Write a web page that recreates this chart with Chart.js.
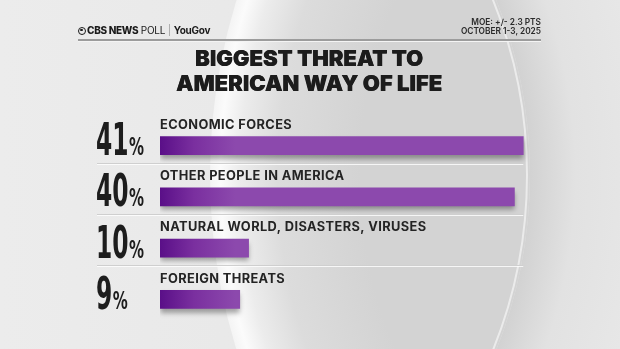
<!DOCTYPE html>
<html><head><meta charset="utf-8">
<script src="https://cdn.jsdelivr.net/npm/chart.js@4.4.1/dist/chart.umd.min.js"></script>
<style>
html,body{margin:0;padding:0;width:620px;height:349px;overflow:hidden;background:#e8e8e8;}
#wrap{position:relative;width:620px;height:349px;}
#c{position:absolute;left:0;top:0;}
.hdr{position:absolute;left:78px;top:23px;font-family:Inter,"Open Sans",sans-serif;font-size:10px;color:#1a1a1a;white-space:nowrap;line-height:14px;letter-spacing:-0.3px;}
.hdr .eye{display:inline-block;width:8px;height:8px;border-radius:50%;border:1.6px solid #1a1a1a;box-sizing:border-box;vertical-align:-0.5px;margin-right:1px;position:relative;}
.hdr .eye:after{content:"";position:absolute;left:1.2px;top:1.2px;width:2.4px;height:2.4px;border-radius:50%;background:#1a1a1a;}
.hdr b{font-weight:800;}
.hdr .poll{font-weight:400;}
.hdr .sep{color:#888;font-weight:300;margin:0 3px;}
.hdr .yg{font-weight:700;}
.moe{position:absolute;right:79px;top:18px;text-align:right;font-family:Inter,"Open Sans",sans-serif;font-size:8.3px;font-weight:600;color:#2a2a2a;line-height:8.5px;}
.rule{position:absolute;left:78px;top:39px;width:463px;height:1.5px;background:#9c9c9c;box-shadow:0 1px 0 #f4f4f4;}
.title{position:absolute;left:0;top:46px;width:618px;text-align:center;font-family:Inter,"Open Sans",sans-serif;font-weight:900;font-size:22px;line-height:24.5px;color:#1c1c1c;letter-spacing:0px;text-shadow:0.4px 0 0 #1c1c1c;}
</style></head>
<body><div id="wrap">
<canvas id="c" width="620" height="349"></canvas>
<div class="hdr"><span class="eye"></span><b>CBS NEWS</b> <span class="poll">POLL</span><span class="sep">|</span><span class="yg">YouGov</span></div>
<div class="moe">MOE: +/- 2.3 PTS<br>OCTOBER 1-3, 2025</div>
<div class="rule"></div>
<div class="title">BIGGEST THREAT TO<br>AMERICAN WAY OF LIFE</div>
</div>
<script>
const categories = ["ECONOMIC FORCES", "OTHER PEOPLE IN AMERICA", "NATURAL WORLD, DISASTERS, VIRUSES", "FOREIGN THREATS"];
const values = [41, 40, 10, 9];
const axisMax = 43;

const bgPlugin = {
  id: 'bg',
  beforeDraw(chart) {
    const ctx = chart.ctx, W = chart.width, H = chart.height;
    ctx.save();
    let g = ctx.createLinearGradient(0, 0, W, 0);
    g.addColorStop(0, '#ececec'); g.addColorStop(0.6, '#e7e7e7'); g.addColorStop(1, '#e4e4e4');
    ctx.fillStyle = g; ctx.fillRect(0, 0, W, H);
    let gr = ctx.createRadialGradient(60, 175, 470, 60, 175, 600);
    gr.addColorStop(0, '#d2d2d2'); gr.addColorStop(0.35, '#e2e2e2'); gr.addColorStop(1, '#e8e8e8');
    ctx.beginPath(); ctx.rect(0, 0, W, H); ctx.arc(60, 175, 470, 0, Math.PI * 2, true);
    ctx.fillStyle = gr; ctx.fill('evenodd');
    ctx.beginPath(); ctx.arc(800, 175, 590, 0, Math.PI * 2); ctx.clip();
    ctx.beginPath(); ctx.arc(60, 175, 470, 0, Math.PI * 2); ctx.clip();
    let gl = ctx.createRadialGradient(800, 175, 440, 800, 175, 590);
    gl.addColorStop(0, '#d3d3d3'); gl.addColorStop(0.55, '#dcdcdc'); gl.addColorStop(0.8, '#ececec'); gl.addColorStop(0.93, '#fbfbfb'); gl.addColorStop(1, '#f4f4f4');
    ctx.fillStyle = gl; ctx.fillRect(0, 0, W, H);
    ctx.beginPath(); ctx.arc(60, 175, 467, -0.45, 0.45);
    ctx.strokeStyle = 'rgba(255,255,255,0.55)'; ctx.lineWidth = 2; ctx.stroke();
    ctx.restore();
  }
};

const shadowPlugin = {
  id: 'barShadow',
  beforeDatasetDraw(chart) {
    const ctx = chart.ctx; ctx.save();
    ctx.shadowColor = 'rgba(0,0,0,0.35)'; ctx.shadowBlur = 5; ctx.shadowOffsetY = 4; ctx.shadowOffsetX = 0;
  },
  afterDatasetDraw(chart) { chart.ctx.restore(); }
};

const labelPlugin = {
  id: 'labels',
  afterDatasetsDraw(chart) {
    const ctx = chart.ctx, meta = chart.getDatasetMeta(0);
    const xs = chart.scales.x, left = chart.chartArea.left;
    const maxPx = xs.getPixelForValue(Math.max(...values));
    ctx.save();
    meta.data.forEach((bar, i) => {
      const y = bar.y;
      ctx.fillStyle = '#242424';
      ctx.font = '700 12.8px Inter, "Open Sans", sans-serif';
      ctx.letterSpacing = '0.4px';
      ctx.textBaseline = 'middle'; ctx.textAlign = 'left';
      ctx.fillText(categories[i], left, y - 20.5);
      ctx.letterSpacing = '0px';
      if (i < values.length - 1) {
        ctx.fillStyle = '#cfcfcf'; ctx.fillRect(97, Math.round(y + 17), maxPx - 97, 1);
        ctx.fillStyle = 'rgba(255,255,255,0.8)'; ctx.fillRect(97, Math.round(y + 18), maxPx - 97, 1);
      }
      const base = y + 9.5;
      const digits = String(values[i]);
      ctx.textBaseline = 'alphabetic';
      ctx.fillStyle = '#1d1d1d';
      ctx.font = 'bold 45px "DejaVu Sans", sans-serif';
      const sx = 0.52;
      const dw = ctx.measureText(digits).width * sx;
      ctx.save(); ctx.translate(96, base); ctx.scale(sx, 1); ctx.fillText(digits, 0, 0); ctx.restore();
      ctx.font = 'bold 25px "DejaVu Sans", sans-serif';
      ctx.save(); ctx.translate(96 + dw + 0.5, base); ctx.scale(0.6, 1); ctx.fillText('%', 0, 0); ctx.restore();
    });
    ctx.restore();
  }
};

function barFill(context) {
  const chart = context.chart, ca = chart.chartArea;
  if (!ca) return '#8b48ad';
  const g = chart.ctx.createLinearGradient(ca.left, 0, ca.left + 75, 0);
  g.addColorStop(0, '#5a0f88');
  g.addColorStop(0.45, '#7a2f9f');
  g.addColorStop(1, '#8c49ad');
  return g;
}

new Chart(document.getElementById('c'), {
  type: 'bar',
  data: {
    labels: categories,
    datasets: [{ data: values, backgroundColor: barFill, borderWidth: 0, barThickness: 18 }]
  },
  options: {
    indexAxis: 'y',
    responsive: false,
    animation: false,
    layout: { padding: { left: 160, right: 79, top: 120, bottom: 24 } },
    scales: {
      x: { display: false, min: 0, max: axisMax },
      y: { display: false }
    },
    plugins: { legend: { display: false }, tooltip: { enabled: false } }
  },
  plugins: [bgPlugin, shadowPlugin, labelPlugin]
});
</script>
</body></html>
